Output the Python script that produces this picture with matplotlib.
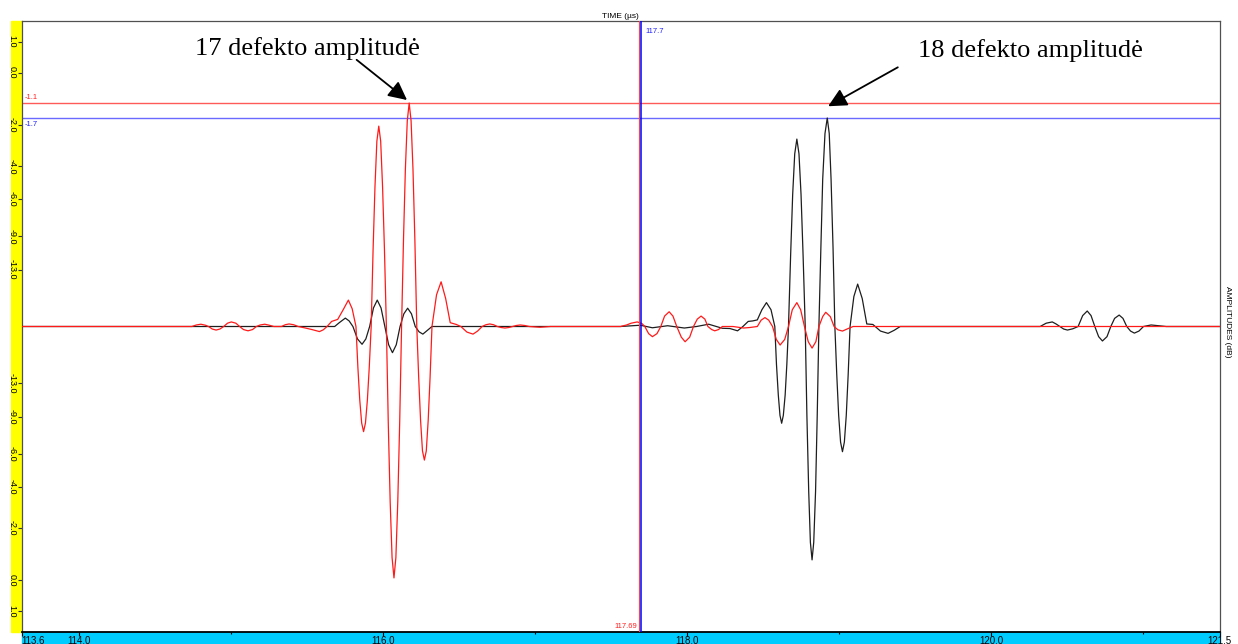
import numpy as np
import matplotlib.pyplot as plt
from matplotlib.patches import Rectangle

# A-scan traces: time (us), amplitude (1.0 = 0 dB)
red_t = [113.62, 114.74, 114.77, 114.80, 114.83, 114.85, 114.875, 114.90, 114.925, 114.95,
         114.975, 115.00, 115.03, 115.055, 115.08, 115.11, 115.14, 115.165, 115.19, 115.22,
         115.25, 115.28, 115.33, 115.355, 115.38, 115.41, 115.44, 115.48, 115.53, 115.58,
         115.605, 115.63, 115.66, 115.70, 115.735, 115.77, 115.795, 115.82,
         115.8325, 115.845, 115.8575, 115.87, 115.8825, 115.895, 115.9075, 115.92,
         115.9325, 115.945, 115.9575, 115.97, 115.9825, 115.995, 116.0075, 116.02,
         116.0325, 116.045, 116.0575, 116.07, 116.0825, 116.095, 116.1075, 116.12,
         116.1325, 116.145, 116.1575, 116.17, 116.1825, 116.195, 116.2075, 116.22,
         116.2325, 116.245, 116.2575, 116.27, 116.2825, 116.295, 116.3075, 116.32,
         116.35, 116.38, 116.41, 116.44, 116.48, 116.51, 116.55, 116.59, 116.62, 116.65,
         116.675, 116.70, 116.725, 116.75, 116.775, 116.80, 116.825, 116.85, 116.875, 116.90,
         116.93, 116.96, 117.03, 117.10, 117.56, 117.60, 117.63, 117.67, 117.70, 117.72,
         117.745, 117.77, 117.80, 117.825, 117.85, 117.88, 117.905, 117.93, 117.96, 117.985,
         118.015, 118.04, 118.065, 118.09, 118.115, 118.135, 118.16, 118.18, 118.205, 118.23,
         118.30, 118.37, 118.41, 118.46, 118.485, 118.51, 118.535, 118.56, 118.585, 118.61,
         118.64, 118.665, 118.69, 118.72, 118.745, 118.77, 118.795, 118.82, 118.845, 118.865,
         118.89, 118.91, 118.94, 118.965, 118.99, 119.02, 119.05, 119.09, 121.50]
red_a = [0, 0, 0.006, 0.009, 0.005, 0, -0.010, -0.014, -0.010, 0,
         0.013, 0.018, 0.013, 0, -0.012, -0.017, -0.012, 0, 0.006, 0.009,
         0.005, 0, 0, 0.007, 0.010, 0.007, 0, -0.005, -0.012, -0.020,
         -0.013, 0, 0.020, 0.028, 0.065, 0.104, 0.070, 0,
         -0.16, -0.29, -0.38, -0.414, -0.38, -0.29, -0.16, 0,
         0.30, 0.55, 0.73, 0.789, 0.73, 0.55, 0.30, 0,
         -0.38, -0.69, -0.91, -0.990, -0.91, -0.69, -0.38, 0,
         0.34, 0.62, 0.81, 0.880, 0.81, 0.62, 0.34, 0,
         -0.20, -0.37, -0.49, -0.526, -0.49, -0.37, -0.20, 0,
         0.125, 0.176, 0.11, 0.015, 0.008, 0, -0.022, -0.030, -0.018, 0,
         0.007, 0.010, 0.007, 0, -0.004, -0.006, -0.004, 0, 0.004, 0.006,
         0.004, 0, -0.003, 0, 0, 0.006, 0.013, 0.018, 0.012, 0,
         -0.028, -0.040, -0.028, 0, 0.041, 0.058, 0.041, 0, -0.042, -0.060,
         -0.042, 0, 0.029, 0.041, 0.029, 0, -0.012, -0.017, -0.012, 0,
         0, -0.006, -0.004, 0, 0.025, 0.035, 0.025, 0, -0.051, -0.073,
         -0.051, 0, 0.066, 0.094, 0.066, 0, -0.060, -0.085, -0.060, 0,
         0.039, 0.056, 0.039, 0, -0.013, -0.018, -0.010, 0, 0]

black_t = [113.62, 115.68, 115.71, 115.75, 115.775, 115.80, 115.83, 115.86, 115.885, 115.91,
           115.935, 115.96, 115.985, 116.01, 116.035, 116.06, 116.085, 116.11, 116.135, 116.16,
           116.185, 116.21, 116.235, 116.26, 116.28, 116.32, 117.56, 117.69, 117.77, 117.87,
           117.98, 118.06, 118.14, 118.23, 118.28, 118.33, 118.365, 118.40, 118.43, 118.46,
           118.49, 118.52, 118.55, 118.575,
           118.586, 118.598, 118.609, 118.62, 118.631, 118.643, 118.654, 118.665,
           118.679, 118.6925, 118.706, 118.72, 118.734, 118.7475, 118.761, 118.775,
           118.786, 118.798, 118.809, 118.82, 118.831, 118.843, 118.854, 118.865,
           118.878, 118.89, 118.905, 118.92, 118.933, 118.945, 118.958, 118.97,
           118.9825, 118.995, 119.0075, 119.02, 119.0325, 119.045, 119.0575, 119.07,
           119.095, 119.12, 119.15, 119.18, 119.22, 119.27,
           119.32, 119.36, 119.40, 120.32, 120.36, 120.40, 120.425, 120.45, 120.475, 120.50,
           120.535, 120.57, 120.60, 120.63, 120.655, 120.68, 120.705, 120.73, 120.76, 120.785,
           120.81, 120.84, 120.865, 120.89, 120.915, 120.94, 120.97, 121.00, 121.05, 121.10,
           121.15, 121.50]
black_a = [0, 0, 0.015, 0.033, 0.022, 0, -0.049, -0.070, -0.049, 0,
           0.073, 0.104, 0.073, 0, -0.072, -0.103, -0.072, 0, 0.050, 0.072,
           0.050, 0, -0.021, -0.030, -0.020, 0, 0, 0.005, -0.005, 0.003,
           -0.006, 0, 0.009, -0.007, -0.008, -0.017, 0, 0.020, 0.022, 0.026,
           0.066, 0.094, 0.066, 0,
           -0.15, -0.27, -0.35, -0.381, -0.35, -0.27, -0.15, 0,
           0.28, 0.52, 0.68, 0.738, 0.68, 0.52, 0.28, 0,
           -0.35, -0.65, -0.85, -0.919, -0.85, -0.65, -0.35, 0,
           0.31, 0.58, 0.76, 0.821, 0.76, 0.58, 0.31, 0,
           -0.19, -0.35, -0.455, -0.493, -0.455, -0.35, -0.19, 0,
           0.118, 0.167, 0.110, 0.010, 0.008, -0.018,
           -0.027, -0.015, 0, 0, 0.013, 0.018, 0.010, 0, -0.010, -0.014,
           -0.009, 0, 0.043, 0.061, 0.043, 0, -0.040, -0.057, -0.040, 0,
           0.032, 0.045, 0.032, 0, -0.018, -0.026, -0.018, 0, 0.006, 0.003,
           0, 0]

y_db = [1.0, 0.0, -2.0, -4.0, -6.0, -9.0, -13.0]
x_major = [113.62, 114.0, 116.0, 118.0, 120.0, 121.5]
x_major_labels = ['113.6', '114.0', '116.0', '118.0', '120.0', '121.5']
x_minor = [115.0, 117.0, 119.0, 121.0]
gate_red_db = -1.1
gate_blue_db = -1.7
cursor_red = 117.682
cursor_blue = 117.697
cursor_red_label = '117.69'
cursor_blue_label = '117.7'

plt.rcParams['font.family'] = ['Liberation Sans', 'DejaVu Sans']

W, H = 1238, 644
fig = plt.figure(figsize=(W / 100, H / 100), dpi=100)
x0, x1, y0, y1 = 21.5, 1219.5, 12, 623   # axes box in figure pixels (from bottom)
ax = fig.add_axes([x0 / W, y0 / H, (x1 - x0) / W, (y1 - y0) / H])

# coloured strips next to the axes
fig.patches.append(Rectangle((11 / W, y0 / H), (x0 - 11) / W, (y1 - y0) / H,
                             transform=fig.transFigure, color='#ffff00', zorder=-5))
fig.patches.append(Rectangle((x0 / W, 0), (x1 - x0) / W, y0 / H,
                             transform=fig.transFigure, color='#00ccff', zorder=-5))

ax.plot(black_t, black_a, color='#1e1e1e', lw=0.9, zorder=3)
ax.plot(red_t, red_a, color='#ff1a1a', lw=0.9, zorder=4)

g_red = 10 ** (gate_red_db / 20)
g_blue = 10 ** (gate_blue_db / 20)
ax.axhline(g_red, color='#ff5a5a', lw=1.0, zorder=2)
ax.axhline(g_blue, color='#6a6aff', lw=1.0, zorder=2)
ax.axvline(cursor_red, color='#ff4040', lw=0.8, zorder=5)
ax.axvline(cursor_blue, color='#0000ff', lw=1.1, zorder=6)

ax.set_xlim(113.62, 121.5)
ax.set_ylim(-1.203, 1.203)

ax.text(113.64, g_red + 0.008, '%.1f' % gate_red_db, color='#ff2020', fontsize=5.5, va='bottom', ha='left')
ax.text(113.64, g_blue - 0.012, '%.1f' % gate_blue_db, color='#2020ff', fontsize=5.5, va='top', ha='left')
ax.text(cursor_blue + 0.03, 1.16, cursor_blue_label, color='#2020ff', fontsize=5.5, va='center', ha='left')
ax.text(cursor_red - 0.015, -1.18, cursor_red_label, color='#ff2020', fontsize=5.5, va='center', ha='right')

# y ticks: dB labels on a linear amplitude axis, mirrored around zero
yt = [10 ** (d / 20) for d in y_db] + [-10 ** (d / 20) for d in y_db]
ax.set_yticks(yt)
ax.set_yticklabels(['%.1f' % d for d in y_db] * 2, rotation=-90, va='center', fontsize=6.5)
ax.tick_params(axis='y', direction='out', length=3, width=0.8, pad=0.5, color='#333333')

ax.set_xticks(x_major)
ax.set_xticklabels(x_major_labels, fontsize=7)
ax.set_xticks(x_minor, minor=True)
ax.tick_params(axis='x', which='major', direction='out', length=3, width=0.8, pad=0)
ax.tick_params(axis='x', which='minor', direction='out', length=1.2, width=0.8)
ax.get_xticklabels()[0].set_ha('left')

for s in ['top', 'left', 'right']:
    ax.spines[s].set_color('#505050')
    ax.spines[s].set_linewidth(0.9)
ax.spines['bottom'].set_color('black')
ax.spines['bottom'].set_linewidth(1.3)

ax.set_title('TIME (µs)', fontsize=6, pad=2.5)
fig.text(1228 / W, 0.5, 'AMPLITUDES (dB)', rotation=-90, fontsize=6, va='center', ha='center')

# defect annotations
ax.annotate('', xy=(116.17, 0.885), xytext=(115.81, 1.057),
            arrowprops=dict(arrowstyle='-|>', color='black', lw=1.3, mutation_scale=28))
ax.annotate('', xy=(118.91, 0.862), xytext=(119.40, 1.026),
            arrowprops=dict(arrowstyle='-|>', color='black', lw=1.3, mutation_scale=28))
fig.text(195 / W, (H - 49) / H, '17 defekto amplitudė', family='Liberation Serif', fontsize=19, va='center')
fig.text(918 / W, (H - 51) / H, '18 defekto amplitudė', family='Liberation Serif', fontsize=19, va='center')

fig.savefig('out.png', dpi=100, facecolor='white')
